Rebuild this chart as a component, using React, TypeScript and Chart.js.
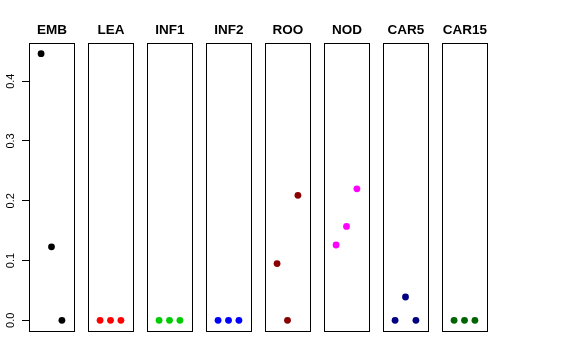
import React, { useEffect, useRef } from "react";
import { Chart, registerables } from "chart.js";

Chart.register(...registerables);

// ---- data ----
const categories = ["EMB", "LEA", "INF1", "INF2", "ROO", "NOD", "CAR5", "CAR15"];
const colors = ["#000000", "#FF0000", "#00CD00", "#0000FF", "#8B0000", "#FF00FF", "#000080", "#006400"];
const rep1 = [0.446, 0, 0, 0, 0.095, 0.126, 0, 0];
const rep2 = [0.123, 0, 0, 0, 0, 0.157, 0.039, 0];
const rep3 = [0, 0, 0, 0, 0.209, 0.22, 0, 0];
const yTicks = [0, 0.1, 0.2, 0.3, 0.4];

// ---- layout (panel geometry in x-units) ----
const PANEL_STEP = 5.664;
const PANEL_LO = -0.16;
const PANEL_HI = 4.16;
const dataMax = 0.446;
const Y_MIN = -0.04 * dataMax;
const Y_MAX = dataMax + 0.04 * dataMax;
const FONT = "'Liberation Sans', Arial, Helvetica, sans-serif";

const panelPlugin = {
  id: "panels",
  afterDatasetsDraw(chart: any) {
    const { ctx, chartArea, scales } = chart;
    const xs = scales.x;
    ctx.save();
    ctx.strokeStyle = "#000";
    ctx.lineWidth = 1;
    const top = Math.round(chartArea.top) + 0.5;
    const bottom = Math.round(chartArea.bottom) + 0.5;
    categories.forEach((name, p) => {
      const l = Math.round(xs.getPixelForValue(p * PANEL_STEP + PANEL_LO)) + 0.5;
      const r = Math.round(xs.getPixelForValue(p * PANEL_STEP + PANEL_HI)) + 0.5;
      ctx.strokeRect(l, top, r - l, bottom - top);
      ctx.fillStyle = "#000";
      ctx.font = `bold 13.5px ${FONT}`;
      ctx.textAlign = "center";
      ctx.textBaseline = "alphabetic";
      ctx.fillText(name, (l + r) / 2, 34);
    });
    ctx.restore();
  },
};

export default function App() {
  const ref = useRef<HTMLCanvasElement>(null);
  useEffect(() => {
    if (!ref.current) return;
    const datasets = categories.map((name, p) => ({
      label: name,
      data: [rep1[p], rep2[p], rep3[p]].map((v, j) => ({ x: p * PANEL_STEP + j + 1, y: v })),
      backgroundColor: colors[p],
      borderColor: colors[p],
      pointRadius: 3.4,
      pointBorderWidth: 0,
      showLine: false,
    }));
    const chart = new Chart(ref.current, {
      type: "scatter",
      data: { datasets },
      plugins: [panelPlugin],
      options: {
        animation: false,
        responsive: false,
        layout: { padding: { top: 43, right: 89, bottom: 29, left: 0 } },
        plugins: { legend: { display: false }, tooltip: { enabled: false }, title: { display: false } },
        scales: {
          x: {
            type: "linear",
            display: false,
            min: PANEL_LO,
            max: (categories.length - 1) * PANEL_STEP + PANEL_HI,
          },
          y: {
            type: "linear",
            min: Y_MIN,
            max: Y_MAX,
            afterFit: (s: any) => {
              s.width = 29;
            },
            afterBuildTicks: (s: any) => {
              s.ticks = yTicks.map((v) => ({ value: v }));
            },
            border: { display: true, color: "#000", width: 1 },
            grid: { drawOnChartArea: false, drawTicks: true, tickLength: 7, tickColor: "#000", color: "#000" },
            ticks: {
              minRotation: 90,
              maxRotation: 90,
              crossAlign: "center",
              padding: 3,
              color: "#000",
              font: { family: FONT, size: 11 },
              callback: (v: any) => Number(v).toFixed(1),
            },
          },
        },
      },
    } as any);
    return () => chart.destroy();
  }, []);
  return (
    <div style={{ position: "absolute", left: 0, top: 0, width: 576, height: 360, background: "#fff" }}>
      <canvas ref={ref} width={576} height={360} />
    </div>
  );
}
